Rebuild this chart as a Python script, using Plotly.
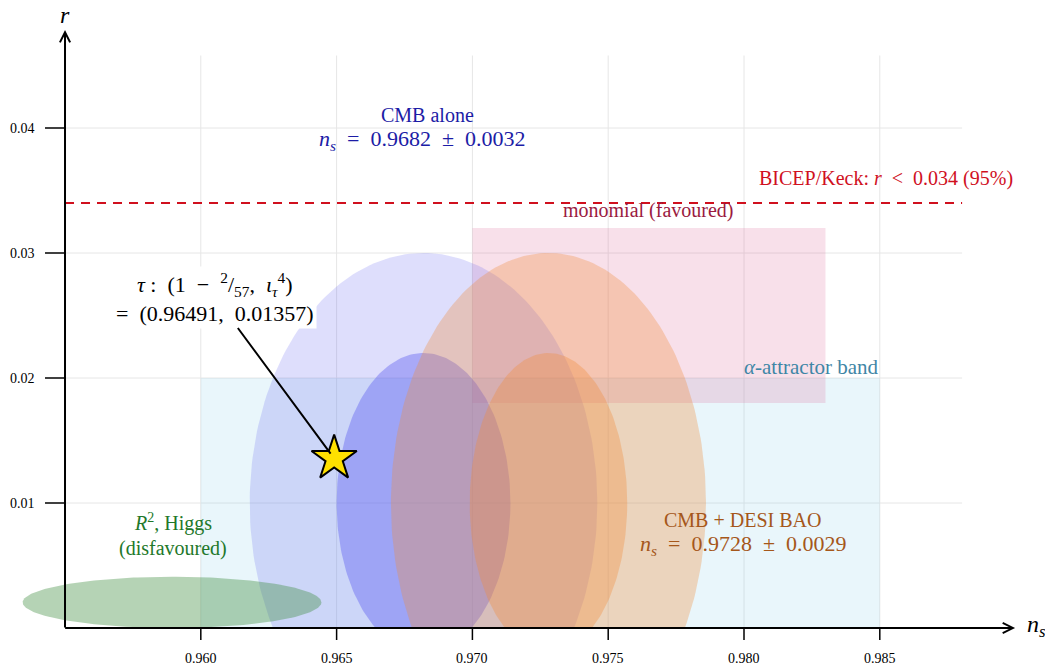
import numpy as np
import plotly.graph_objects as go

# ---------------- data ----------------
x_ticks = [0.960, 0.965, 0.970, 0.975, 0.980, 0.985]
x_tick_labels = ["0.960", "0.965", "0.970", "0.975", "0.980", "0.985"]
y_ticks = [0.01, 0.02, 0.03, 0.04]
y_tick_labels = ["0.01", "0.02", "0.03", "0.04"]

# ellipses: (centre ns, centre r) and (half-width ns, half-height r)
cmb_center = [0.9682, 0.010]
cmb_inner = [0.0032, 0.012]
cmb_outer = [0.0064, 0.020]
desi_center = [0.9728, 0.010]
desi_inner = [0.0029, 0.012]
desi_outer = [0.0058, 0.020]
higgs_center = [0.95894, 0.00205]
higgs_size = [0.0055, 0.00205]

# rectangles: ns range, r range
alpha_band_ns = [0.960, 0.985]
alpha_band_r = [0.0, 0.020]
monomial_ns = [0.970, 0.983]
monomial_r = [0.018, 0.032]

bicep_limit = 0.034
tau_point = [0.96491, 0.01357]

# axis extents
x_axis_start = 0.955
x_axis_end = 0.98998
y_axis_end = 0.04784
grid_x_end = 0.98803
grid_y_end = 0.0458

# page body has an 8px margin: figure occupies page pixels 8..1053 x 8..670
X_RANGE = [0.952901, 0.991377]
Y_RANGE = [-0.00336, 0.0496]

SERIF = "Liberation Serif"
EN = "\u2002"

fig = go.Figure()


def ellipse_trace(c, s, color):
    t = np.linspace(0, 2 * np.pi, 241)
    xs = c[0] + s[0] * np.cos(t)
    ys = np.maximum(c[1] + s[1] * np.sin(t), 0.0)
    return go.Scatter(x=xs, y=ys, mode="lines", fill="toself", fillcolor=color,
                      line=dict(width=0), hoverinfo="skip", showlegend=False)


def rect_trace(xr, yr, color):
    return go.Scatter(x=[xr[0], xr[1], xr[1], xr[0], xr[0]],
                      y=[yr[0], yr[0], yr[1], yr[1], yr[0]],
                      mode="lines", fill="toself", fillcolor=color,
                      line=dict(width=0), hoverinfo="skip", showlegend=False)


fig.add_trace(rect_trace(alpha_band_ns, alpha_band_r, "rgba(135,206,235,0.18)"))
fig.add_trace(rect_trace(monomial_ns, monomial_r, "rgba(220,100,150,0.2)"))
fig.add_trace(ellipse_trace(cmb_center, cmb_outer, "rgba(90,90,240,0.2)"))
fig.add_trace(ellipse_trace(cmb_center, cmb_inner, "rgba(90,90,240,0.4)"))
fig.add_trace(ellipse_trace(desi_center, desi_outer, "rgba(240,140,60,0.32)"))
fig.add_trace(ellipse_trace(desi_center, desi_inner, "rgba(240,140,60,0.35)"))
fig.add_trace(ellipse_trace(higgs_center, higgs_size, "rgba(60,140,60,0.38)"))

# BICEP dashed line
fig.add_trace(go.Scatter(x=[x_axis_start, grid_x_end], y=[bicep_limit, bicep_limit],
                         mode="lines", line=dict(color="#d0101e", width=2, dash="9px,7px"),
                         hoverinfo="skip", showlegend=False))

# star
fig.add_trace(go.Scatter(x=[tau_point[0]], y=[tau_point[1]], mode="markers",
                         marker=dict(symbol="star", size=34, color="#ffe000",
                                     line=dict(color="black", width=2)),
                         hoverinfo="skip", showlegend=False))

shapes = []
# grid
for xt in x_ticks:
    shapes.append(dict(type="line", xref="x", yref="y", x0=xt, x1=xt, y0=0, y1=grid_y_end,
                       line=dict(color="#e6e6e6", width=1), layer="below"))
for yt in y_ticks:
    shapes.append(dict(type="line", xref="x", yref="y", x0=x_axis_start, x1=grid_x_end, y0=yt, y1=yt,
                       line=dict(color="#e6e6e6", width=1), layer="below"))
# tick marks
for xt in x_ticks:
    shapes.append(dict(type="line", xref="x", yref="y", ysizemode="pixel", yanchor=0,
                       x0=xt, x1=xt, y0=0, y1=-12, line=dict(color="black", width=1.5)))
for yt in y_ticks:
    shapes.append(dict(type="line", xref="x", yref="y", xsizemode="pixel", xanchor=x_axis_start,
                       x0=-20, x1=0, y0=yt, y1=yt, line=dict(color="black", width=1.5)))

annotations = []
# axis arrows
annotations.append(dict(x=x_axis_end, y=0, ax=x_axis_start - 0.00005, ay=0, xref="x", yref="y",
                        axref="x", ayref="y", text="", showarrow=True, arrowhead=5,
                        arrowsize=1, arrowwidth=2, arrowcolor="black", standoff=0))
annotations.append(dict(x=x_axis_start, y=y_axis_end, ax=x_axis_start, ay=-0.00008, xref="x", yref="y",
                        axref="x", ayref="y", text="", showarrow=True, arrowhead=5,
                        arrowsize=1, arrowwidth=2, arrowcolor="black", standoff=0))
# tick labels
for xt, lab in zip(x_ticks, x_tick_labels):
    annotations.append(dict(x=xt, y=0, xref="x", yref="y", text=lab, showarrow=False,
                            yshift=-30, font=dict(family=SERIF, size=14, color="black")))
for yt, lab in zip(y_ticks, y_tick_labels):
    annotations.append(dict(x=x_axis_start, y=yt, xref="x", yref="y", text=lab, showarrow=False,
                            xanchor="right", xshift=-28, font=dict(family=SERIF, size=14, color="black")))
# axis titles
annotations.append(dict(x=x_axis_start, y=y_axis_end, xref="x", yref="y", text="<i>r</i>",
                        showarrow=False, yshift=15, font=dict(family=SERIF, size=24, color="black")))
annotations.append(dict(x=x_axis_end, y=0, xref="x", yref="y", text="<i>n</i><sub><i>s</i></sub>",
                        showarrow=False, xanchor="left", xshift=10, yshift=2,
                        font=dict(family=SERIF, size=24, color="black")))


def label(x, y, text, color, size=20):
    annotations.append(dict(x=x, y=y, xref="x", yref="y", text=text, showarrow=False,
                            font=dict(family=SERIF, size=size, color=color)))


blue_txt = "#1c1ca6"
label(0.96833, 0.04104, "CMB alone", blue_txt, 20)
label(0.96815, 0.03904, f"<i>n</i><sub><i>s</i></sub>{EN}={EN}0.9682{EN}±{EN}0.0032", blue_txt, 22)
label(0.98523, 0.0360, f"BICEP/Keck: <i>r</i>{EN}&lt;{EN}0.034 (95%)", "#d0101e", 20)
label(0.9765, 0.03344, "monomial (favoured)", "#9b1b3f", 20)
label(0.9825, 0.02088, "<i>α</i>-attractor band", "#3f86a6", 21)
label(0.95898, 0.00848, "<i>R</i><sup>2</sup>, Higgs", "#22782a", 20)
label(0.95898, 0.0064, "(disfavoured)", "#22782a", 20)
brown_txt = "#a5571a"
label(0.97996, 0.00864, "CMB + DESI BAO", brown_txt, 20)
label(0.97996, 0.00664, f"<i>n</i><sub><i>s</i></sub>{EN}={EN}0.9728{EN}±{EN}0.0029", brown_txt, 22)

# tau annotation with pointer
tau_text = (f"<i>τ</i> :{EN}(1{EN}−{EN}<sup>2</sup>/<sub>57</sub>,{EN}<i>ι</i><sub><i>τ</i></sub><sup>4</sup>)"
            f"<br>={EN}(0.96491,{EN}0.01357)")
annotations.append(dict(x=tau_point[0], y=tau_point[1], xref="x", yref="y",
                        ax=0.96052, ay=0.02648, axref="x", ayref="y",
                        text=tau_text,
                        showarrow=True, arrowhead=0, arrowwidth=2, arrowcolor="black",
                        standoff=6, bgcolor="white", borderpad=2,
                        font=dict(family=SERIF, size=22, color="black")))

fig.update_layout(
    width=1045, height=662,
    margin=dict(l=0, r=0, t=0, b=0),
    paper_bgcolor="white", plot_bgcolor="white",
    xaxis=dict(range=X_RANGE, visible=False, fixedrange=True),
    yaxis=dict(range=Y_RANGE, visible=False, fixedrange=True),
    shapes=shapes, annotations=annotations, showlegend=False,
)

fig.write_html("out.html")
